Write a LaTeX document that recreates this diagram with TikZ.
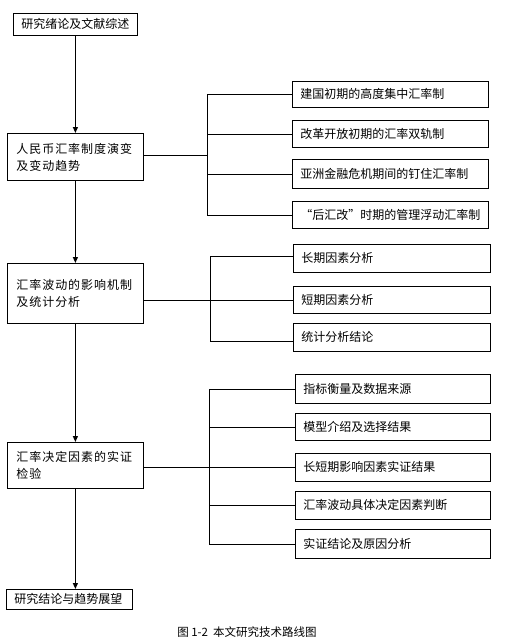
\documentclass[tikz,border=0pt]{standalone}
\usepackage{fontspec}
\setmainfont{Noto Sans CJK SC}
\newfontfamily\spaced[LetterSpace=8]{Noto Sans CJK SC}
\usetikzlibrary{arrows.meta}
\tikzset{
  box/.style={draw, line width=0.8pt, anchor=north west, inner xsep=8pt, inner ysep=0pt,
    align=left, font=\fontsize{12}{17}\selectfont},
  mainbox/.style={box, inner xsep=9pt, font=\fontsize{12}{17}\selectfont\spaced},
  flow/.style={line width=1.1pt, -{Triangle[length=6pt,width=5pt]}},
  link/.style={line width=0.7pt}
}
\begin{document}
\begin{tikzpicture}[x=1pt,y=-1pt]
\useasboundingbox (0,0) rectangle (504,642);
% main column
\node[box, text width=108pt, minimum height=22pt] (A) at (13,13) {研究绪论及文献综述};
\node[mainbox, text width=118pt, minimum height=47pt] (B) at (7,133) {人民币汇率制度演变\\及变动趋势};
\node[mainbox, text width=118pt, minimum height=60pt] (C) at (7,263) {汇率波动的影响机制\\及统计分析};
\node[mainbox, text width=118pt, minimum height=46pt] (D) at (7,442) {汇率决定因素的实证\\检验};
\node[box, text width=110pt, minimum height=20pt] (E) at (6,589) {研究结论与趋势展望};
% group 1
\node[box, text width=180pt, minimum height=26pt] (P1) at (292,81) {建国初期的高度集中汇率制};
\node[box, text width=180pt, minimum height=27pt] (P2) at (292,120) {改革开放初期的汇率双轨制};
\node[box, text width=180pt, minimum height=29pt] (P3) at (292,159) {亚洲金融危机期间的钉住汇率制};
\node[box, text width=180pt, minimum height=27pt] (P4) at (292,201) {“后汇改”时期的管理浮动汇率制};
% group 2
\node[box, text width=181pt, minimum height=28pt] (Q1) at (293,244) {长期因素分析};
\node[box, text width=181pt, minimum height=27pt] (Q2) at (293,286) {短期因素分析};
\node[box, text width=181pt, minimum height=28pt] (Q3) at (293,323) {统计分析结论};
% group 3
\node[box, text width=179pt, minimum height=29pt] (S1) at (295,374) {指标衡量及数据来源};
\node[box, text width=179pt, minimum height=27pt] (S2) at (295,413) {模型介绍及选择结果};
\node[box, text width=179pt, minimum height=28pt] (S3) at (295,453) {长短期影响因素实证结果};
\node[box, text width=179pt, minimum height=28pt] (S4) at (295,491) {汇率波动具体决定因素判断};
\node[box, text width=179pt, minimum height=29pt] (S5) at (295,529) {实证结论及原因分析};
% caption
\node[font=\fontsize{11.5}{14}\selectfont] (cap) at (247,632) {图 1-2\ \ 本文研究技术路线图};
% flow arrows
\draw[flow] (A.south) -- (B.north);
\draw[flow] (B.south) -- (C.north);
\draw[flow] (C.south) -- (D.north);
\draw[flow] (D.south) -- (D.south |- E.north);
% bracket coordinates
\coordinate (b1) at (207,155);
\coordinate (b2) at (210,300);
\coordinate (b3) at (209,467);
\coordinate (q1w) at ([yshift=2pt]Q1.west);
\coordinate (q3w) at ([yshift=-4pt]Q3.west);
% group 1 connectors
\draw[link] (B.east |- b1) -- (b1);
\draw[link] (P1.west) -- (b1 |- P1.west) -- (b1 |- P4.west) -- (P4.west);
\draw[link] (b1 |- P2.west) -- (P2.west);
\draw[link] (b1 |- P3.west) -- (P3.west);
% group 2 connectors
\draw[link] (C.east |- Q2.west) -- (Q2.west);
\draw[link] (q1w) -- (b2 |- q1w) -- (b2 |- q3w) -- (q3w);
% group 3 connectors
\draw[link] (D.east |- S3.west) -- (S3.west);
\draw[link] (S1.west) -- (b3 |- S1.west) -- (b3 |- S5.west) -- (S5.west);
\draw[link] (b3 |- S2.west) -- (S2.west);
\draw[link] (b3 |- S4.west) -- (S4.west);
\end{tikzpicture}
\end{document}
